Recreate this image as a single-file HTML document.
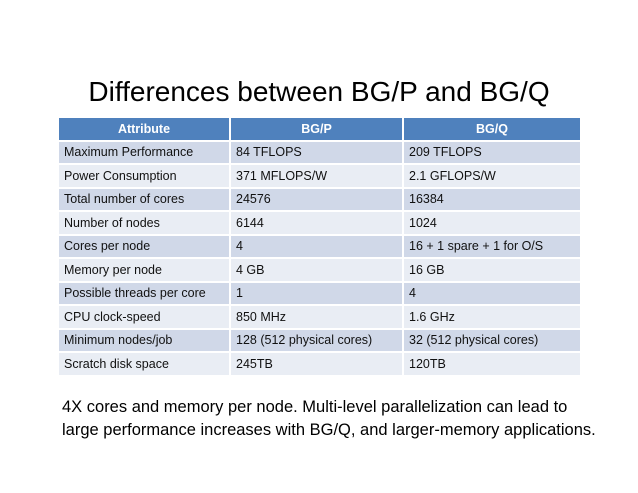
<!DOCTYPE html>
<html><head><meta charset="utf-8"><style>
body{margin:0;width:638px;height:493px;background:#fff;font-family:"Liberation Sans",sans-serif;position:relative;overflow:hidden}
#title{position:absolute;left:0;width:638px;top:76px;text-align:center;font-size:28px;color:#000}
table{position:absolute;left:57px;top:116px;border-collapse:separate;border-spacing:2px;width:525px}
td,th{height:21.5px;padding:0 0 0 5px;font-size:12.5px;color:#111;text-align:left;white-space:nowrap}
th{background:#4f81bd;color:#fff;text-align:center;font-weight:bold;padding:0}
tr:nth-child(even) td{background:#d0d8e8}
tr:nth-child(odd) td{background:#e9edf4}
#note{position:absolute;left:62px;top:396px;font-size:16.5px;line-height:23px;color:#000}
</style></head><body>
<div id="title">Differences between BG/P and BG/Q</div>
<table>
<tr><th style="width:170px">Attribute</th><th style="width:171px">BG/P</th><th>BG/Q</th></tr>
<tr><td>Maximum Performance</td><td>84 TFLOPS</td><td>209 TFLOPS</td></tr>
<tr><td>Power Consumption</td><td>371 MFLOPS/W</td><td>2.1 GFLOPS/W</td></tr>
<tr><td>Total number of cores</td><td>24576</td><td>16384</td></tr>
<tr><td>Number of nodes</td><td>6144</td><td>1024</td></tr>
<tr><td>Cores per node</td><td>4</td><td>16 + 1 spare + 1 for O/S</td></tr>
<tr><td>Memory per node</td><td>4 GB</td><td>16 GB</td></tr>
<tr><td>Possible threads per core</td><td>1</td><td>4</td></tr>
<tr><td>CPU clock-speed</td><td>850 MHz</td><td>1.6 GHz</td></tr>
<tr><td>Minimum nodes/job</td><td>128 (512 physical cores)</td><td>32 (512 physical cores)</td></tr>
<tr><td>Scratch disk space</td><td>245TB</td><td>120TB</td></tr>
</table>
<div id="note">4X cores and memory per node. Multi-level parallelization can lead to<br>large performance increases with BG/Q, and larger-memory applications.</div>
</body></html>
